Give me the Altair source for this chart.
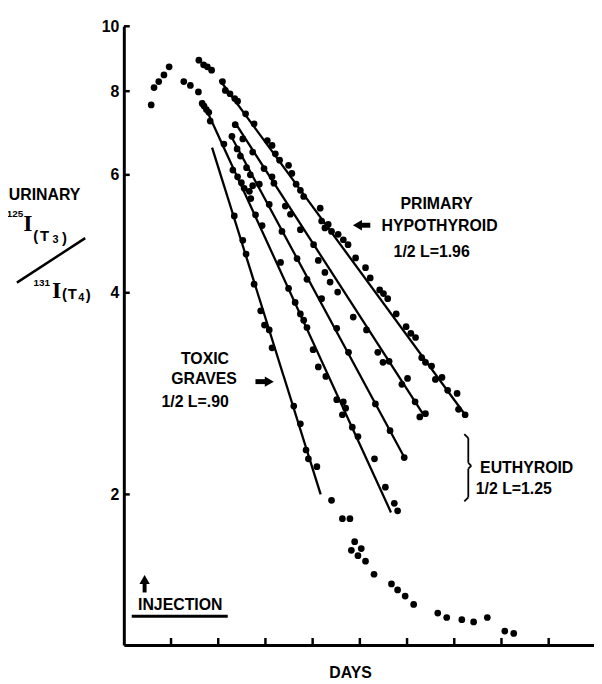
import altair as alt
import pandas as pd

# ---------------- data (days after injection, urinary 125I(T3)/131I(T4) ratio) -------------
early_day = [0.58, 0.64, 0.74, 0.85, 0.96, 1.27, 1.41, 1.58, 1.59, 1.69, 1.77, 1.86]
early_val = [7.63, 8.10, 8.27, 8.46, 8.70, 8.27, 8.16, 7.98, 8.90, 8.76, 8.70, 8.60]

hypo_day = [2.09, 2.15, 2.25, 2.35, 2.41, 2.58, 2.76, 3.04, 3.14, 3.21, 3.30, 3.49, 3.56, 3.65,
            3.74, 3.81, 4.16, 4.19, 4.33, 4.26, 4.40, 4.54, 4.65, 4.75, 4.91, 5.12, 5.22, 5.42,
            5.50, 5.59, 5.77, 5.98, 6.08, 6.18, 6.31, 6.39, 6.52, 6.60, 6.74, 6.86, 7.06, 7.09, 7.23]
hypo_val = [8.27, 8.02, 7.93, 7.80, 7.73, 7.40, 7.15, 6.75, 6.64, 6.45, 6.31, 6.20, 6.03, 5.81,
            5.69, 5.57, 5.35, 5.12, 5.06, 5.00, 4.94, 4.89, 4.80, 4.72, 4.51, 4.36, 4.21, 4.04,
            3.99, 3.92, 3.72, 3.56, 3.48, 3.43, 3.20, 3.15, 3.11, 2.97, 2.99, 2.86, 2.83, 2.68, 2.63]

eu_a_day = [2.36, 2.52, 2.73, 2.97, 3.14, 3.18, 3.42, 3.53, 3.74, 4.02, 4.12, 4.26, 4.37, 4.53,
            4.86, 5.14, 5.38, 5.49, 5.62, 5.89, 6.01, 6.17, 6.27, 6.39]
eu_a_val = [7.13, 6.79, 6.49, 6.13, 5.96, 5.83, 5.39, 5.24, 4.97, 4.72, 4.47, 4.29, 4.15, 4.01,
            3.68, 3.52, 3.26, 3.15, 3.16, 2.92, 2.98, 2.75, 2.61, 2.64]

eu_b_day = [2.29, 2.40, 2.47, 2.60, 2.68, 2.87, 3.08, 3.35, 3.67, 3.88, 4.19, 4.51, 4.76, 5.33,
            5.64, 5.94]
eu_b_val = [6.85, 6.56, 6.40, 6.15, 6.00, 5.81, 5.42, 4.94, 4.50, 4.19, 3.92, 3.54, 3.26, 2.73,
            2.49, 2.27]

eu_c_day = [1.66, 1.70, 1.75, 1.80, 1.83, 2.12, 2.31, 2.41, 2.49, 2.55, 2.66, 2.73, 2.69, 2.79,
            2.93, 3.32, 3.49, 3.63, 3.74, 3.81, 3.88, 4.01, 4.12, 4.28, 4.51, 4.65, 4.70, 4.63,
            4.84, 4.96, 5.31, 5.54, 5.73, 5.80]
eu_c_val = [7.67, 7.60, 7.51, 7.44, 7.22, 6.67, 6.10, 5.96, 5.84, 5.73, 5.67, 5.78, 5.53, 5.23,
            5.04, 4.44, 4.06, 3.87, 3.72, 3.64, 3.55, 3.29, 3.10, 3.00, 2.77, 2.75, 2.69, 2.63,
            2.52, 2.44, 2.26, 2.05, 1.94, 1.89]

toxic_day = [2.34, 2.52, 2.59, 2.76, 2.90, 2.98, 3.08, 3.14, 3.60, 3.74, 3.86, 3.91, 4.09]
toxic_val = [5.21, 4.79, 4.57, 4.12, 3.76, 3.58, 3.52, 3.31, 2.71, 2.55, 2.33, 2.26, 2.20]

tail_day = [4.40, 4.63, 4.79, 4.89, 5.03, 4.82, 4.96, 5.12, 5.30, 5.67, 5.80, 5.96, 6.14, 6.65,
            6.84, 7.16, 7.41, 7.70, 8.07, 8.26]
tail_val = [1.96, 1.84, 1.84, 1.70, 1.66, 1.65, 1.62, 1.59, 1.52, 1.47, 1.44, 1.41, 1.37, 1.33,
            1.31, 1.30, 1.29, 1.31, 1.25, 1.24]

# fitted regression lines (start / end)
fit_names = ["Primary hypothyroid", "Euthyroid 1", "Euthyroid 2", "Euthyroid 3", "Toxic Graves"]
fit_day0 = [2.03, 2.35, 2.26, 1.66, 1.87]
fit_val0 = [8.32, 7.19, 6.88, 7.75, 6.59]
fit_day1 = [7.23, 6.35, 5.93, 5.66, 4.17]
fit_val1 = [2.63, 2.63, 2.28, 1.88, 2.00]

ytick_values = [2, 4, 6, 8, 10]
xtick_days = [1, 2, 3, 4, 5, 6, 7, 8, 9]

# ---------------- tables ----------------
series = [("early", early_day, early_val), ("hypo", hypo_day, hypo_val),
          ("eu_a", eu_a_day, eu_a_val), ("eu_b", eu_b_day, eu_b_val),
          ("eu_c", eu_c_day, eu_c_val), ("toxic", toxic_day, toxic_val),
          ("tail", tail_day, tail_val)]
points = pd.concat([pd.DataFrame({"series": n, "day": d, "val": v}) for n, d, v in series],
                   ignore_index=True)
fits = pd.DataFrame({"name": fit_names, "d0": fit_day0, "v0": fit_val0,
                     "d1": fit_day1, "v1": fit_val1})
yticks = pd.DataFrame({"v": ytick_values})
xticks = pd.DataFrame({"d": xtick_days})

W, H = 475, 625
SANS = "Liberation Sans"
SERIF = "Liberation Serif"

xs = alt.Scale(domain=[0, 9.96], nice=False, zero=False)
ys = alt.Scale(type="log", domain=[1.192, 10], nice=False, zero=False)
xa = alt.Axis(labels=False, ticks=False, grid=False, title=None,
              domainColor="black", domainWidth=3)
ya = alt.Axis(values=ytick_values, format="d", ticks=False, grid=False, title=None,
              domainColor="black", domainWidth=3, labelFont=SANS, labelFontSize=16,
              labelFontWeight="bold", labelColor="black", labelPadding=5)

pts = alt.Chart(points).mark_circle(size=46, color="black", opacity=1).encode(
    x=alt.X("day:Q", scale=xs, axis=xa),
    y=alt.Y("val:Q", scale=ys, axis=ya),
)

lines = alt.Chart(fits).mark_rule(color="black", strokeWidth=2.3).encode(
    x=alt.X("d0:Q", scale=xs, axis=xa), y=alt.Y("v0:Q", scale=ys, axis=ya),
    x2="d1:Q", y2="v1:Q",
)

ytk = alt.Chart(yticks).mark_rule(color="black", strokeWidth=2.5).encode(
    y=alt.Y("v:Q", scale=ys, axis=ya), x=alt.value(0), x2=alt.value(6))
xtk = alt.Chart(xticks).mark_rule(color="black", strokeWidth=2.5).encode(
    x=alt.X("d:Q", scale=xs, axis=xa), y=alt.value(H), y2=alt.value(H - 7))

one = alt.Data(values=[{}])


def txt(text, x, y, size=16, font=SANS, weight="bold", align="center"):
    return alt.Chart(one).mark_text(text=text, font=font, fontSize=size, fontWeight=weight,
                                    align=align, baseline="middle", color="black").encode(
        x=alt.value(x), y=alt.value(y))


def seg(x1, y1, x2, y2, w=2.5):
    return alt.Chart(one).mark_rule(color="black", strokeWidth=w).encode(
        x=alt.value(x1), y=alt.value(y1), x2=alt.value(x2), y2=alt.value(y2))


def tri(shape, x, y, size=90):
    return alt.Chart(one).mark_point(shape=shape, filled=True, size=size, color="black",
                                     opacity=1).encode(x=alt.value(x), y=alt.value(y))


annots = [
    # y-axis title
    txt("URINARY", -80, 170),
    txt("125", -110, 190, size=10),
    txt("I", -97, 200, size=24, font=SERIF),
    txt("(", -89, 212, size=15),
    txt("T", -80, 212, size=15),
    txt("3", -69, 216, size=11),
    txt(")", -60, 214, size=15),
    seg(-108, 259, -39, 214, w=2.5),
    txt("131", -83, 259, size=10),
    txt("I", -68, 268, size=24, font=SERIF),
    txt("(", -60, 271, size=15),
    txt("T", -52, 271, size=15),
    txt("4", -43, 275, size=11),
    txt(")", -36, 272, size=15),
    # primary hypothyroid
    txt("PRIMARY", 316, 180),
    txt("HYPOTHYROID", 319, 202),
    txt("1/2 L=1.96", 311, 228),
    tri("triangle-left", 236, 201, 110),
    seg(240, 201, 249, 201, w=5),
    # toxic graves
    txt("TOXIC", 82, 336),
    txt("GRAVES", 81, 356),
    txt("1/2 L=.90", 72, 380),
    tri("triangle-right", 147, 359, 110),
    seg(133, 359, 143, 359, w=5),
    # euthyroid brace + text
    seg(344, 412, 348, 416, w=1.8),
    seg(348, 416, 348, 441, w=1.8),
    seg(348, 441, 351, 444, w=1.8),
    seg(351, 444, 348, 447, w=1.8),
    seg(348, 447, 348, 476, w=1.8),
    seg(348, 476, 344, 480, w=1.8),
    txt("EUTHYROID", 407, 446),
    txt("1/2 L=1.25", 394, 468),
    # injection
    tri("triangle-up", 21, 559, 110),
    seg(21, 563, 21, 572, w=4),
    txt("INJECTION", 57, 585),
    seg(8, 596, 105, 596, w=3),
    # x title
    txt("DAYS", 229, 653),
]

chart = alt.layer(pts, lines, ytk, xtk, *annots).properties(
    width=W, height=H,
    autosize=alt.AutoSizeParams(type="none"),
    padding={"left": 117, "top": 15, "right": 0, "bottom": 36},
    background="white",
).configure_view(stroke=None)

chart.save("out.html", embed_options={"renderer": "svg", "actions": False})
